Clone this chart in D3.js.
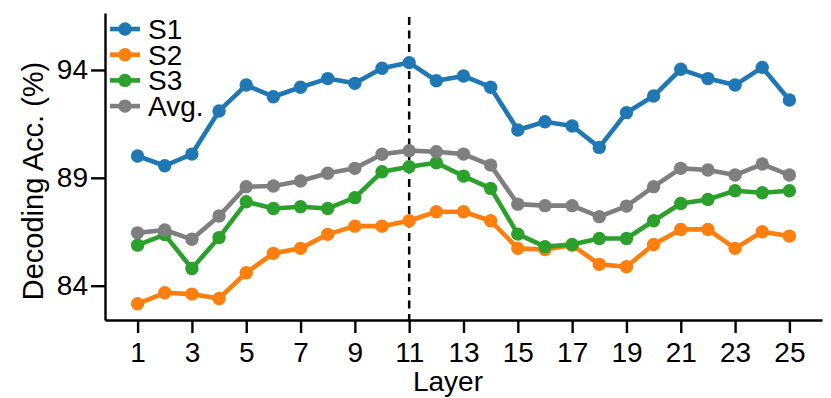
<!DOCTYPE html>
<html>
<head>
<meta charset="utf-8">
<script src="https://cdn.jsdelivr.net/npm/d3@7"></script>
<style>
  body { margin: 0; background: #fff; }
  text { font-family: "Liberation Sans", Arial, sans-serif; fill: #000; }
</style>
</head>
<body>
<div id="chart"></div>
<script>
// Data
var layers = [1, 2, 3, 4, 5, 6, 7, 8, 9, 10, 11, 12, 13, 14, 15, 16, 17, 18, 19, 20, 21, 22, 23, 24, 25];
var s1 = [90.01, 89.56, 90.10, 92.10, 93.30, 92.76, 93.20, 93.60, 93.38, 94.08, 94.34, 93.50, 93.72,
          93.20, 91.22, 91.60, 91.40, 90.41, 92.02, 92.79, 94.03, 93.60, 93.30, 94.12, 92.61];
var s2 = [83.16, 83.67, 83.61, 83.41, 84.60, 85.50, 85.73, 86.38, 86.76, 86.76, 87.01, 87.43, 87.43,
          87.01, 85.73, 85.68, 85.88, 84.99, 84.88, 85.91, 86.61, 86.61, 85.73, 86.50, 86.30];
var s3 = [85.88, 86.37, 84.80, 86.23, 87.89, 87.58, 87.66, 87.58, 88.08, 89.28, 89.51, 89.70, 89.08,
          88.51, 86.39, 85.81, 85.91, 86.19, 86.19, 87.01, 87.81, 88.00, 88.40, 88.31, 88.40];
var avg = [86.45, 86.58, 86.15, 87.23, 88.59, 88.62, 88.85, 89.21, 89.44, 90.09, 90.26, 90.21, 90.10,
           89.59, 87.78, 87.71, 87.71, 87.20, 87.69, 88.59, 89.44, 89.36, 89.13, 89.64, 89.13];
var seriesNames = ["S1", "S2", "S3", "Avg."];
var seriesColors = ["#1f77b4", "#ff7f0e", "#2ca02c", "#7f7f7f"];
var xTicks = [1, 3, 5, 7, 9, 11, 13, 15, 17, 19, 21, 23, 25];
var yTicks = [84, 89, 94];
var markedLayer = 11;

var svgWidth = 831;
var svgHeight = 398;
var margin = { top: 13, right: 9, bottom: 78, left: 105 };
var width = svgWidth - margin.left - margin.right;
var height = svgHeight - margin.top - margin.bottom;

var svg = d3.select("#chart")
  .append("svg")
  .attr("width", svgWidth)
  .attr("height", svgHeight);

var chartGroup = svg.append("g")
  .attr("transform", `translate(${margin.left}, ${margin.top})`);

// Scales
var xScale = d3.scaleLinear()
  .domain([-0.2, 26.2])
  .range([0, width]);

var yScale = d3.scaleLinear()
  .domain([82.41, 96.64])
  .range([height, 0]);

// Axes
var bottomAxis = d3.axisBottom(xScale)
  .tickValues(xTicks)
  .tickFormat(d3.format("d"))
  .tickSize(13)
  .tickPadding(9)
  .tickSizeOuter(0);

var leftAxis = d3.axisLeft(yScale)
  .tickValues(yTicks)
  .tickFormat(d3.format("d"))
  .tickSize(14)
  .tickPadding(3)
  .tickSizeOuter(0);

var xAxisG = chartGroup.append("g")
  .attr("transform", `translate(0, ${height})`)
  .call(bottomAxis);

var yAxisG = chartGroup.append("g")
  .call(leftAxis);

[xAxisG, yAxisG].forEach(function(g) {
  g.select(".domain").attr("stroke", "#000").attr("stroke-width", 2.4);
  g.selectAll(".tick line").attr("stroke", "#000").attr("stroke-width", 2.4);
  g.selectAll(".tick text")
    .attr("font-family", "Liberation Sans, Arial, sans-serif")
    .attr("font-size", 28)
    .attr("fill", "#000");
});

// Dashed marker at the chosen layer
chartGroup.append("line")
  .attr("x1", xScale(markedLayer))
  .attr("x2", xScale(markedLayer))
  .attr("y1", 4)
  .attr("y2", height)
  .attr("stroke", "#000")
  .attr("stroke-width", 2.5)
  .attr("stroke-dasharray", "8,5.5");

// Lines + markers
var allSeries = [s1, s2, s3, avg];
var line = d3.line()
  .x((d, i) => xScale(layers[i]))
  .y(d => yScale(d));

allSeries.forEach(function(values, k) {
  chartGroup.append("path")
    .datum(values)
    .attr("d", line)
    .attr("fill", "none")
    .attr("stroke", seriesColors[k])
    .attr("stroke-width", 4.6)
    .attr("stroke-linejoin", "round");

  chartGroup.selectAll(null)
    .data(values)
    .enter()
    .append("circle")
    .attr("cx", (d, i) => xScale(layers[i]))
    .attr("cy", d => yScale(d))
    .attr("r", 6.7)
    .attr("fill", seriesColors[k]);
});

// Legend
var legend = svg.append("g")
  .attr("transform", "translate(110, 29)");

seriesNames.forEach(function(name, k) {
  var row = legend.append("g")
    .attr("transform", `translate(0, ${k * 25.7})`);
  row.append("line")
    .attr("x1", 0).attr("x2", 30)
    .attr("y1", 0).attr("y2", 0)
    .attr("stroke", seriesColors[k])
    .attr("stroke-width", 4.6);
  row.append("circle")
    .attr("cx", 15).attr("cy", 0)
    .attr("r", 6.7)
    .attr("fill", seriesColors[k]);
  row.append("text")
    .attr("x", 38)
    .attr("y", 0)
    .attr("dy", "0.36em")
    .attr("font-size", 28)
    .text(name);
});

// Axis labels
svg.append("text")
  .attr("transform", "translate(43, 181) rotate(-90)")
  .attr("text-anchor", "middle")
  .attr("font-size", 29)
  .text("Decoding Acc. (%)");

svg.append("text")
  .attr("x", 448)
  .attr("y", 391)
  .attr("text-anchor", "middle")
  .attr("font-size", 28)
  .text("Layer");
</script>
</body>
</html>
